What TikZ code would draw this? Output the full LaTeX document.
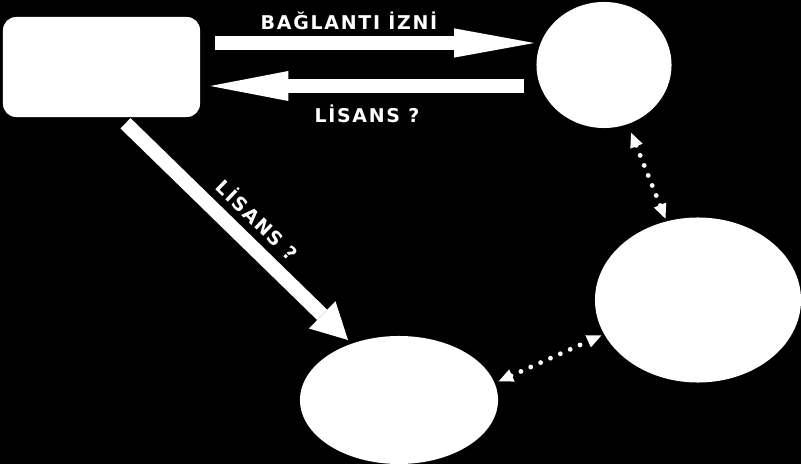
\documentclass[tikz,border=0pt]{standalone}
\usepackage{fontspec}
\usepackage{tikz}
\usetikzlibrary{arrows.meta, positioning, shapes.geometric}
\newfontfamily\labelfont[LetterSpace=9]{DejaVu Sans Bold}
\tikzset{%
	every blob/.style={
		ellipse,
		fill=white,
		inner sep=0pt
	},
	card/.style={
		rectangle,
		rounded corners=0.33cm,
		fill=white,
		inner sep=0pt
	},
	label text/.style={
		text=white,
		inner sep=0pt,
		font=\labelfont\fontsize{13.5}{15}\selectfont
	},
	big arrow/.style={
		draw=white,
		line width=0.36cm
	},
	dot arrow/.style={
		draw=white,
		line width=0.12cm,
		line cap=round,
		dash pattern=on 0pt off 0.27cm,
		{Triangle[length=0.38cm,width=0.3cm]}-{Triangle[length=0.38cm,width=0.3cm]}
	},
}

\begin{document}
\begin{tikzpicture}[x=0.025cm, y=-0.025cm]
				% Background
				\fill[black] (0,0) rectangle (801,464);
				\useasboundingbox (0,0) rectangle (801,464);
				% Shapes
				\node[card, minimum width=4.925cm, minimum height=2.5cm] (client) at (101.5,67) {};
				\node[every blob, minimum width=3.375cm, minimum height=3.15cm] (server) at (604,65) {};
				\node[every blob, minimum width=5.15cm, minimum height=4.125cm] (peer) at (698,300) {};
				\node[every blob, minimum width=4.95cm, minimum height=3.2cm] (agent) at (399,400) {};
				% Labels
				\node[label text] (grant) at (349,21) {BAĞLANTI İZNİ};
				\node[label text] (ask) at (367,114) {LİSANS ?};
				\node[label text, rotate=-44] (askdiag) at (258,219) {LİSANS ?};
				% Block arrows
				\draw[big arrow, -{Triangle[length=2cm,width=0.73cm,line width=0pt]}]
					([shift={(15,-24)}]client.east) -- ([shift={(-2,-22)}]server.west);
				\draw[big arrow, -{Triangle[length=1.95cm,width=0.75cm,line width=0pt]}]
					([shift={(-12,21)}]server.west) -- ([shift={(10,19)}]client.east);
				\draw[big arrow, -{Triangle[length=0.9cm,width=0.95cm,line width=0pt]}]
					([shift={(24,6)}]client.south) -- ([shift={(-51,-60)}]agent.center);
				% Dotted links
				\draw[dot arrow, shorten <=6pt, shorten >=1.5pt] (server) -- (peer);
				\draw[dot arrow, shorten <=2.5pt, shorten >=1.5pt] (agent.10) -- (peer.200);
			\end{tikzpicture}
\end{document}
